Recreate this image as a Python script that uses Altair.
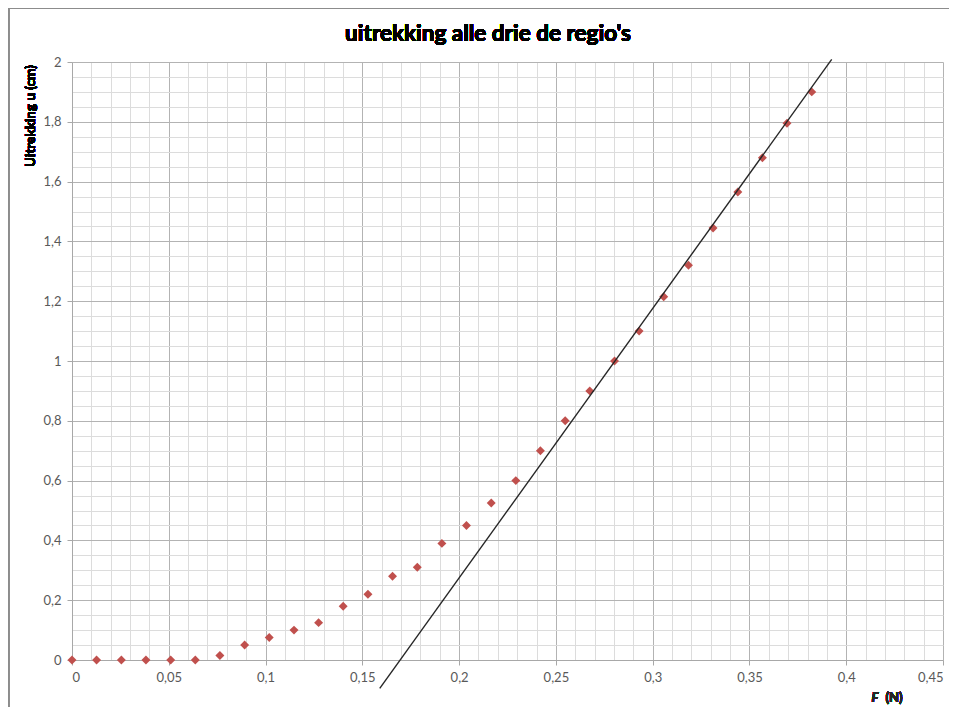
import altair as alt
import pandas as pd

F_values = [0, 0.0127, 0.0255, 0.0382, 0.051, 0.0637, 0.0764, 0.0892, 0.1019, 0.1147,
            0.1274, 0.1401, 0.1529, 0.1656, 0.1784, 0.1911, 0.2038, 0.2166, 0.2293, 0.242,
            0.2548, 0.2675, 0.2803, 0.293, 0.3057, 0.3185, 0.3312, 0.344, 0.3567, 0.3694, 0.3822]
u_values = [0, 0, 0, 0, 0, 0, 0.015, 0.05, 0.075, 0.10,
            0.125, 0.18, 0.22, 0.28, 0.31, 0.39, 0.45, 0.525, 0.60, 0.70,
            0.80, 0.90, 1.00, 1.10, 1.215, 1.32, 1.445, 1.565, 1.68, 1.795, 1.90]

# hand-drawn straight line (end points)
line_F = [0.159, 0.3925]
line_u = [-0.095, 2.009]

x_ticks = [round(i * 0.01, 2) for i in range(46)]
y_ticks = [round(i * 0.05, 2) for i in range(41)]

TITLE = "uitrekking alle drie de regio's"
Y_TITLE = "Uitrekking u (cm)"
X_TITLE_VAR = "F"
X_TITLE_UNIT = "(N)"
FONT = "Lato"
W, H = 871, 598
PAD = {"left": 64, "top": 54, "right": 6, "bottom": 47}

pts = pd.DataFrame({"F": F_values, "u": u_values})
ln = pd.DataFrame({"F": line_F, "u": line_u})

x_major = "round(datum.value*100) % 5 == 0"
y_major = "round(datum.value*100) % 20 == 0"

x_scale = alt.Scale(domain=[0, 0.45], nice=False, zero=False)
y_scale = alt.Scale(domain=[0, 2], nice=False, zero=False)

x_axis = alt.Axis(
    values=x_ticks, tickCount=200, title="",
    labelExpr=f"{x_major} ? replace(format(datum.value, '~g'), '.', ',') : ''",
    labelOverlap=False,
    labelFont=FONT, labelFontSize=13, labelColor="#595959", labelPadding=6,
    gridColor={"condition": {"test": x_major, "value": "#b3b3b3"}, "value": "#dcdcdc"},
    tickColor={"condition": {"test": x_major, "value": "#a8a8a8"}, "value": "transparent"},
    tickSize=5,
    domainColor="#a8a8a8",
)
y_axis = alt.Axis(
    values=y_ticks, tickCount=200, title="",
    labelExpr=f"{y_major} ? replace(format(datum.value, '~g'), '.', ',') : ''",
    labelOverlap=False,
    labelFont=FONT, labelFontSize=13, labelColor="#595959", labelPadding=6,
    gridColor={"condition": {"test": y_major, "value": "#b3b3b3"}, "value": "#dcdcdc"},
    tickColor={"condition": {"test": y_major, "value": "#a8a8a8"}, "value": "transparent"},
    tickSize=5,
    domainColor="#a8a8a8",
)

points = alt.Chart(pts).mark_point(
    shape="diamond", filled=True, color="#c0504d", size=80, opacity=1
).encode(
    x=alt.X("F:Q", scale=x_scale, axis=x_axis),
    y=alt.Y("u:Q", scale=y_scale, axis=y_axis),
)

fit = alt.Chart(ln).mark_line(color="#262626", strokeWidth=1.4, clip=False).encode(
    x=alt.X("F:Q", scale=x_scale),
    y=alt.Y("u:Q", scale=y_scale),
)

def label(text, x, y, size, **kw):
    return alt.Chart(pts).mark_text(
        text=text, font=FONT, fontSize=size, fontWeight="bold",
        color=kw.pop("color", "#000000"), align="center", baseline="middle", **kw
    ).encode(x=alt.value(x), y=alt.value(y))

title_text = label(TITLE, 416, -28, 22.5)
y_title = label(Y_TITLE, -41, 54, 13.5, angle=270)
f_label = label(X_TITLE_VAR, 803, 636, 13, fontStyle="italic", color="#262626")
n_label = label(X_TITLE_UNIT, 822, 636, 13, color="#262626")

frame_left = alt.Chart(pts).mark_rule(color="#8c8c8c", strokeWidth=1.2).encode(
    x=alt.value(-63.5), y=alt.value(-54), y2=alt.value(H + 47)
)
frame_top = alt.Chart(pts).mark_rule(color="#8c8c8c", strokeWidth=1.2).encode(
    y=alt.value(-53.5), x=alt.value(-64), x2=alt.value(W + 6)
)

chart = alt.layer(points, fit, title_text, y_title, f_label, n_label,
                  frame_left, frame_top).properties(
    width=W, height=H,
    autosize=alt.AutoSizeParams(type="none"),
    padding=PAD,
    background="white",
).configure_view(stroke=None)

chart.save("out.html", embed_options={"renderer": "svg", "actions": False})
